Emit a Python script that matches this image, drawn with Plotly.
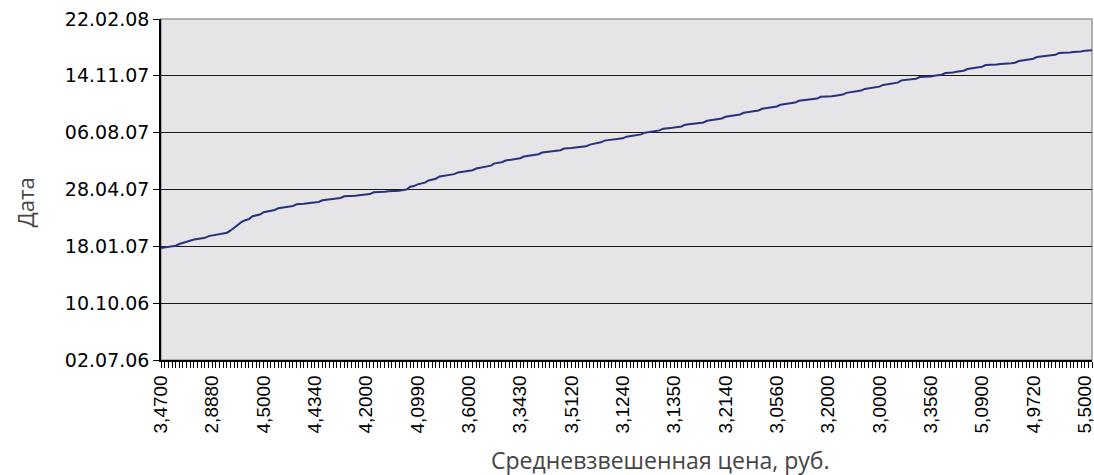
import plotly.graph_objects as go

# Dates of deals (y values), one per deal, in order
dates = [
    "2007-01-15", "2007-01-16", "2007-01-17", "2007-01-18", "2007-01-19", "2007-01-22",
    "2007-01-24", "2007-01-26", "2007-01-29", "2007-01-30", "2007-01-31", "2007-02-01",
    "2007-02-02", "2007-02-05", "2007-02-06", "2007-02-07", "2007-02-08", "2007-02-09",
    "2007-02-11", "2007-02-15", "2007-02-20", "2007-02-26", "2007-03-02", "2007-03-05",
    "2007-03-07", "2007-03-12", "2007-03-13", "2007-03-15", "2007-03-19", "2007-03-20",
    "2007-03-22", "2007-03-23", "2007-03-26", "2007-03-27", "2007-03-28", "2007-03-29",
    "2007-03-30", "2007-04-02", "2007-04-02", "2007-04-03", "2007-04-04", "2007-04-05",
    "2007-04-05", "2007-04-06", "2007-04-09", "2007-04-10", "2007-04-11", "2007-04-12",
    "2007-04-12", "2007-04-13", "2007-04-16", "2007-04-16", "2007-04-17", "2007-04-17",
    "2007-04-18", "2007-04-19", "2007-04-19", "2007-04-20", "2007-04-23", "2007-04-23",
    "2007-04-24", "2007-04-24", "2007-04-25", "2007-04-25", "2007-04-26", "2007-04-26",
    "2007-04-27", "2007-04-28", "2007-05-03", "2007-05-04", "2007-05-07", "2007-05-08",
    "2007-05-10", "2007-05-14", "2007-05-15", "2007-05-17", "2007-05-21", "2007-05-22",
    "2007-05-23", "2007-05-24", "2007-05-25", "2007-05-28", "2007-05-29", "2007-05-30",
    "2007-05-31", "2007-06-01", "2007-06-04", "2007-06-05", "2007-06-06", "2007-06-08",
    "2007-06-09", "2007-06-13", "2007-06-14", "2007-06-15", "2007-06-18", "2007-06-19",
    "2007-06-20", "2007-06-21", "2007-06-22", "2007-06-25", "2007-06-26", "2007-06-27",
    "2007-06-28", "2007-06-29", "2007-07-02", "2007-07-03", "2007-07-04", "2007-07-04",
    "2007-07-05", "2007-07-06", "2007-07-09", "2007-07-09", "2007-07-10", "2007-07-11",
    "2007-07-12", "2007-07-12", "2007-07-13", "2007-07-16", "2007-07-17", "2007-07-18",
    "2007-07-20", "2007-07-23", "2007-07-24", "2007-07-25", "2007-07-26", "2007-07-27",
    "2007-07-27", "2007-07-30", "2007-07-31", "2007-08-01", "2007-08-02", "2007-08-03",
    "2007-08-06", "2007-08-07", "2007-08-08", "2007-08-09", "2007-08-10", "2007-08-13",
    "2007-08-13", "2007-08-14", "2007-08-15", "2007-08-16", "2007-08-17", "2007-08-20",
    "2007-08-21", "2007-08-22", "2007-08-22", "2007-08-23", "2007-08-24", "2007-08-27",
    "2007-08-28", "2007-08-29", "2007-08-30", "2007-08-31", "2007-09-03", "2007-09-04",
    "2007-09-05", "2007-09-06", "2007-09-07", "2007-09-10", "2007-09-11", "2007-09-12",
    "2007-09-13", "2007-09-14", "2007-09-17", "2007-09-18", "2007-09-19", "2007-09-20",
    "2007-09-21", "2007-09-24", "2007-09-25", "2007-09-26", "2007-09-27", "2007-09-28",
    "2007-10-01", "2007-10-02", "2007-10-02", "2007-10-03", "2007-10-04", "2007-10-05",
    "2007-10-08", "2007-10-08", "2007-10-09", "2007-10-09", "2007-10-10", "2007-10-11",
    "2007-10-12", "2007-10-15", "2007-10-16", "2007-10-17", "2007-10-18", "2007-10-19",
    "2007-10-22", "2007-10-23", "2007-10-24", "2007-10-25", "2007-10-26", "2007-10-29",
    "2007-10-30", "2007-10-31", "2007-11-01", "2007-11-02", "2007-11-06", "2007-11-07",
    "2007-11-08", "2007-11-09", "2007-11-09", "2007-11-12", "2007-11-12", "2007-11-13",
    "2007-11-13", "2007-11-14", "2007-11-15", "2007-11-16", "2007-11-19", "2007-11-19",
    "2007-11-20", "2007-11-21", "2007-11-22", "2007-11-23", "2007-11-26", "2007-11-27",
    "2007-11-28", "2007-11-29", "2007-11-30", "2007-12-03", "2007-12-03", "2007-12-04",
    "2007-12-04", "2007-12-05", "2007-12-05", "2007-12-06", "2007-12-06", "2007-12-07",
    "2007-12-10", "2007-12-11", "2007-12-12", "2007-12-13", "2007-12-14", "2007-12-17",
    "2007-12-18", "2007-12-19", "2007-12-20", "2007-12-21", "2007-12-21", "2007-12-24",
    "2007-12-24", "2007-12-25", "2007-12-25", "2007-12-26", "2007-12-26", "2007-12-27",
    "2007-12-28", "2007-12-28", "2007-12-29",
]

# Category labels shown on the x axis (every 14th deal)
label_step = 14
price_labels = [
    "3,4700", "2,8880", "4,5000", "4,4340", "4,2000", "4,0990", "3,6000",
    "3,3430", "3,5120", "3,1240", "3,1350", "3,2140", "3,0560", "3,2000",
    "3,0000", "3,3560", "5,0900", "4,9720", "5,5000",
]

# Y axis date ticks (100-day steps)
y_ticks = ["2006-07-02", "2006-10-10", "2007-01-18", "2007-04-28",
           "2007-08-06", "2007-11-14", "2008-02-22"]
y_ticktext = ["02.07.06", "10.10.06", "18.01.07", "28.04.07",
              "06.08.07", "14.11.07", "22.02.08"]

x_title = "Средневзвешенная цена, руб."
y_title = "Дата"

n = len(dates)
x_idx = list(range(n))
tickvals = [i * label_step for i in range(len(price_labels))]

fig = go.Figure()
fig.add_trace(go.Scatter(
    x=x_idx, y=dates, mode="lines",
    line=dict(color="#27337F", width=2),
    hoverinfo="skip", showlegend=False,
))

fig.update_layout(
    width=1094, height=475,
    margin=dict(l=161, r=2, t=19, b=115),
    paper_bgcolor="white",
    plot_bgcolor="#E5E5E8",
    xaxis=dict(
        automargin=False,
        range=[0, n - 1],
        tickmode="array", tickvals=tickvals, ticktext=price_labels,
        tickangle=-90, ticklabeloverflow="allow",
        ticks="outside", ticklen=6, tickcolor="black", tickwidth=1,
        minor=dict(dtick=1, tick0=0, ticks="outside", ticklen=6,
                   tickcolor="black", tickwidth=1, showgrid=False),
        showgrid=False, zeroline=False,
        showline=True, linecolor="black", linewidth=1.5,
        tickfont=dict(family="Liberation Sans, Arial", size=19, color="black"),
    ),
    yaxis=dict(
        automargin=False,
        type="date",
        range=["2006-07-02", "2008-02-22"],
        tickmode="array", tickvals=y_ticks, ticktext=y_ticktext,
        ticks="outside", ticklen=6, tickcolor="black", tickwidth=1,
        showgrid=True, gridcolor="#1a1a1a", gridwidth=1,
        zeroline=False,
        showline=True, linecolor="black", linewidth=1.5,
        tickfont=dict(family="DejaVu Sans", size=19, color="black"),
    ),
    shapes=[dict(type="rect", xref="paper", yref="paper", x0=0, x1=1, y0=0, y1=1,
                 line=dict(color="#9a9a9a", width=1.5), layer="below")],
    annotations=[
        dict(text=x_title, xref="paper", yref="paper", x=0.5365, y=-0.293,
             xanchor="center", yanchor="middle", showarrow=False,
             font=dict(family="Open Sans", size=23, color="#444444")),
        dict(text=y_title, xref="paper", yref="paper", x=-0.146, y=0.463,
             xanchor="center", yanchor="middle", showarrow=False, textangle=-90,
             font=dict(family="Open Sans", size=22, color="#444444")),
    ],
)

fig.write_html(
    "out.html",
    config={"displayModeBar": False},
    post_script="document.body.style.margin='0';document.body.style.overflow='hidden';",
)
